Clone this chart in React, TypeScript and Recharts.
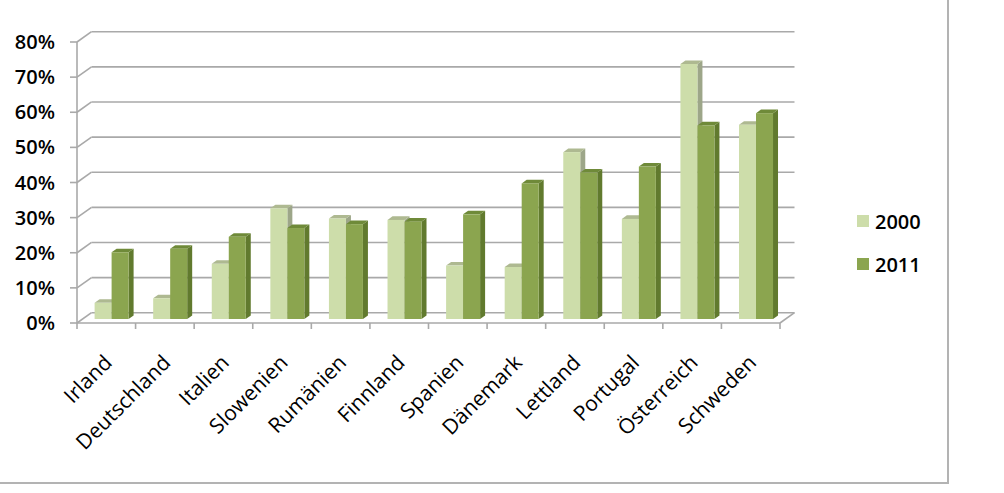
import React from 'react';
import { BarChart, Bar, XAxis, YAxis, CartesianGrid, ReferenceLine } from 'recharts';

const categories = ['Irland', 'Deutschland', 'Italien', 'Slowenien', 'Rumänien', 'Finnland', 'Spanien', 'Dänemark', 'Lettland', 'Portugal', 'Österreich', 'Schweden'];
const values2000 = [4.6, 5.9, 15.7, 31.5, 28.6, 28.2, 15.2, 14.8, 47.5, 28.5, 72.6, 55.3];
const values2011 = [19.0, 20.0, 23.4, 25.9, 27.0, 27.7, 29.8, 38.6, 41.7, 43.4, 55.1, 58.6];
const seriesNames = ['2000', '2011'];
const yTicks = [0, 10, 20, 30, 40, 50, 60, 70, 80];

const data = categories.map((name, i) => ({ name, v2000: values2000[i], v2011: values2011[i] }));

const W = 1004;
const H = 493;
const MARGIN = { top: 42, right: 224, left: 0, bottom: 110 };
const Y_AXIS_W = 77;
const X_AXIS_H = 60;
const PLOT_W = W - MARGIN.right - MARGIN.left - Y_AXIS_W;
const BAND = PLOT_W / categories.length;

// 3D depth offsets
const BACK_DX = 14.5;
const BACK_DY = -10.3;
const BAR_DX = 5.6;
const BAR_DY = -4;
const SIDE_DX = 5;
const SIDE_DY = -3.6;

const FONT = '"Open Sans", "DejaVu Sans", sans-serif';
const GRID = '#A9A9A9';

const COLORS = {
  v2000: { front: '#CDDDAA', top: '#AEB991', side: '#9DA689' },
  v2011: { front: '#8BA54F', top: '#6F8A39', side: '#617A2E' },
};

const makeShape = (c: { front: string; top: string; side: string }) => (props: any) => {
  const { x, y, width, height } = props;
  if (width == null || height == null) return <g />;
  const fx = x + BAR_DX;
  const fy = y + BAR_DY;
  const top = `${fx},${fy} ${fx + width},${fy} ${fx + width + SIDE_DX},${fy + SIDE_DY} ${fx + SIDE_DX},${fy + SIDE_DY}`;
  const side = `${fx + width},${fy} ${fx + width + SIDE_DX},${fy + SIDE_DY} ${fx + width + SIDE_DX},${fy + height + SIDE_DY} ${fx + width},${fy + height}`;
  return (
    <g>
      <polygon points={side} fill={c.side} />
      <polygon points={top} fill={c.top} />
      <rect x={fx} y={fy} width={width} height={height} fill={c.front} />
    </g>
  );
};

const gridLine = (props: any) => {
  const { x1, y1, x2, key } = props;
  return (
    <g key={key}>
      <line x1={x1} y1={y1} x2={x1 + BACK_DX} y2={y1 + BACK_DY} stroke={GRID} strokeWidth={1.6} />
      <line x1={x1 + BACK_DX} y1={y1 + BACK_DY} x2={x2 + BACK_DX} y2={y1 + BACK_DY} stroke={GRID} strokeWidth={1.6} />
    </g>
  );
};

const floorRight = (props: any) => {
  const { x2, y2 } = props;
  return <line x1={x2} y1={y2} x2={x2 + BACK_DX} y2={y2 + BACK_DY} stroke={GRID} strokeWidth={1.6} />;
};

const XTick = (props: any) => {
  const { x, y, payload, index } = props;
  const tx = x + 7;
  const ty = y + 41;
  return (
    <g>
      <line x1={x - BAND / 2} y1={y} x2={x - BAND / 2} y2={y + 6} stroke={GRID} strokeWidth={1.6} />
      {index === categories.length - 1 && (
        <line x1={x + BAND / 2} y1={y} x2={x + BAND / 2} y2={y + 6} stroke={GRID} strokeWidth={1.6} />
      )}
      <text
        x={tx}
        y={ty}
        textAnchor="end"
        transform={`rotate(-45, ${tx}, ${ty})`}
        fontFamily={FONT}
        fontSize={21}
        fontWeight={500}
        fill="#000"
      >
        {payload.value}
      </text>
    </g>
  );
};

export default function App() {
  const legendColors = [COLORS.v2000.front, COLORS.v2011.front];
  return (
    <div style={{ position: 'absolute', left: 0, top: 0, width: W, height: H, background: '#fff' }}>
      <div
        style={{
          position: 'absolute',
          left: -2,
          top: -2,
          width: 951,
          height: 486,
          boxSizing: 'border-box',
          border: '2px solid #B3B3B3',
        }}
      />
      <div style={{ position: 'absolute', left: 0, top: 0 }}>
        <BarChart width={W} height={H} data={data} margin={MARGIN} barGap={0} barSize={17}>
          <CartesianGrid vertical={false} horizontal={gridLine} />
          <XAxis
            dataKey="name"
            height={X_AXIS_H}
            interval={0}
            tickLine={false}
            tickSize={0}
            tickMargin={0}
            axisLine={{ stroke: GRID, strokeWidth: 1.6 }}
            tick={<XTick />}
          />
          <YAxis
            width={Y_AXIS_W}
            domain={[0, 80]}
            ticks={yTicks}
            interval={0}
            tickSize={7}
            tickMargin={15}
            tickFormatter={(v: number) => `${v}%`}
            axisLine={{ stroke: GRID, strokeWidth: 1.6 }}
            tickLine={{ stroke: GRID, strokeWidth: 1.6 }}
            tick={{ fontFamily: FONT, fontSize: 20, fontWeight: 600, fill: '#000' }}
          />
          <ReferenceLine y={0} shape={floorRight} />
          <Bar dataKey="v2000" name={seriesNames[0]} isAnimationActive={false} shape={makeShape(COLORS.v2000)} />
          <Bar dataKey="v2011" name={seriesNames[1]} isAnimationActive={false} shape={makeShape(COLORS.v2011)} />
        </BarChart>
      </div>
      <div style={{ position: 'absolute', left: 857, top: 205, fontFamily: FONT, fontSize: 20, fontWeight: 600, color: '#000' }}>
        {seriesNames.map((s, i) => (
          <div key={s} style={{ display: 'flex', alignItems: 'center', height: 32, marginBottom: i === 0 ? 11 : 0 }}>
            <div style={{ width: 12, height: 12, background: legendColors[i], marginRight: 6 }} />
            <span>{s}</span>
          </div>
        ))}
      </div>
    </div>
  );
}
